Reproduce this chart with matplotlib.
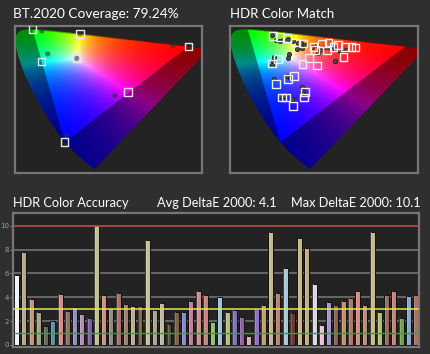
import numpy as np
import matplotlib
matplotlib.use('Agg')
import matplotlib.pyplot as plt
from matplotlib.patches import Polygon

# ---------------- data ----------------
# CIE 1931 spectral locus (x, y), 380..700 nm
locus_x = [0.1741, 0.1733, 0.1714, 0.1644, 0.1566, 0.1440, 0.1241, 0.1096, 0.0913, 0.0687,
           0.0454, 0.0235, 0.0082, 0.0039, 0.0139, 0.0389, 0.0743, 0.1142, 0.1547, 0.2296,
           0.3016, 0.3731, 0.4441, 0.5125, 0.5752, 0.6270, 0.6915, 0.7190, 0.7347]
locus_y = [0.0050, 0.0048, 0.0051, 0.0109, 0.0177, 0.0297, 0.0578, 0.0868, 0.1327, 0.2007,
           0.2950, 0.4127, 0.5384, 0.6548, 0.7502, 0.8120, 0.8338, 0.8262, 0.8059, 0.7543,
           0.6923, 0.6245, 0.5547, 0.4866, 0.4242, 0.3725, 0.3083, 0.2809, 0.2653]

# BT.2020 targets (u', v'): R, G, B, Y, C, M, W
bt_target_u = [0.5566, 0.0556, 0.1593, 0.2086, 0.0844, 0.3626, 0.1978]
bt_target_v = [0.5165, 0.5868, 0.1258, 0.5685, 0.4556, 0.3300, 0.4683]
# measured points (u', v')
bt_meas_u = [0.507, 0.0857, 0.1659, 0.2086, 0.1049, 0.3209, 0.198]
bt_meas_v = [0.5194, 0.5796, 0.1501, 0.5685, 0.4855, 0.3149, 0.468]

# HDR color match targets (u', v')
cm_target_u = [0.138, 0.160, 0.181, 0.207, 0.234, 0.266, 0.271, 0.293, 0.314, 0.330,
               0.309, 0.344, 0.367, 0.388, 0.400, 0.362, 0.252, 0.231, 0.277, 0.154,
               0.135, 0.205, 0.186, 0.147, 0.239, 0.237, 0.165, 0.178, 0.202]
cm_target_v = [0.559, 0.556, 0.552, 0.532, 0.529, 0.515, 0.502, 0.529, 0.532, 0.515,
               0.499, 0.522, 0.515, 0.515, 0.512, 0.472, 0.468, 0.445, 0.438, 0.464,
               0.447, 0.395, 0.382, 0.363, 0.331, 0.308, 0.308, 0.308, 0.273]
cm_meas_u = [0.133, 0.147, 0.160, 0.170, 0.184, 0.202, 0.216, 0.227, 0.239, 0.213,
             0.231, 0.261, 0.277, 0.287, 0.303, 0.319, 0.335, 0.351, 0.369, 0.282,
             0.335, 0.188, 0.186, 0.141, 0.138, 0.135, 0.181, 0.191, 0.141, 0.231,
             0.234, 0.231, 0.160, 0.173, 0.199]
cm_meas_v = [0.563, 0.543, 0.540, 0.543, 0.546, 0.540, 0.529, 0.532, 0.522, 0.505,
             0.509, 0.515, 0.522, 0.502, 0.515, 0.509, 0.505, 0.499, 0.502, 0.488,
             0.458, 0.485, 0.468, 0.472, 0.458, 0.440, 0.395, 0.386, 0.382, 0.349,
             0.335, 0.325, 0.314, 0.314, 0.300]

# HDR color accuracy (DeltaE 2000 per patch)
delta_e = [5.9, 7.8, 3.85, 2.8, 1.62, 2.0, 4.27, 2.85, 3.16, 2.6,
           2.23, 10.05, 4.22, 3.07, 4.33, 3.41, 3.24, 3.24, 8.8, 2.93,
           3.52, 1.76, 2.8, 2.8, 3.66, 4.55, 4.19, 1.95, 4.05, 2.8,
           2.9, 2.35, 0.77, 2.99, 3.38, 9.45, 4.38, 6.43, 2.68, 9.0,
           8.16, 5.11, 1.68, 3.6, 3.38, 3.72, 3.9, 4.55, 3.38, 9.47,
           2.74, 4.19, 4.53, 2.23, 4.1, 4.19]
bar_colors = ['#f2f2f2', '#b8a888', '#c09880', '#a0a880', '#607050', '#6090a0', '#d09088', '#907060',
              '#9090c0', '#b090b0', '#8060a0', '#c0c090', '#d09080', '#909088', '#b07068', '#a08070',
              '#c0b090', '#906858', '#c8c098', '#a8a890', '#c0b8a0', '#505838', '#806050', '#8888d0',
              '#c080a0', '#d09088', '#c08878', '#90c070', '#a0c0d8', '#b0c080', '#8070c0', '#9060a0',
              '#e0a8c0', '#9070c8', '#c0a070', '#c8b890', '#c08070', '#a8c8d8', '#703830', '#c8b888',
              '#c0b080', '#d8d8e0', '#e8c0d0', '#a098d0', '#906050', '#c09070', '#b07868', '#d09080',
              '#b89078', '#c8b888', '#b0c078', '#a06858', '#c88078', '#70a050', '#88a8d0', '#b07060']
y_ticks = [0, 2, 4, 6, 8, 10]

BG = '#2f2f2f'
PANEL = '#232323'
BORDER = '#767676'

M2020 = np.array([[1.7166512, -0.3556708, -0.2533663],
                  [-0.6666844, 1.6164812, 0.0157685],
                  [0.0176399, -0.0427706, 0.9421031]])

fig = plt.figure(figsize=(4.3, 3.54), dpi=100, facecolor=BG)
FONT = 'Lato'


def gamut_axes(rect):
    ax = fig.add_axes(rect)
    ax.set_facecolor(PANEL)
    n = 320
    uu = np.linspace(0, 0.6, n)
    vv = np.linspace(0.0005, 0.6, n)
    U, V = np.meshgrid(uu, vv)
    d = 6 * U - 16 * V + 12
    x = 9 * U / d
    y = 4 * V / d
    X = x / y
    Z = (1 - x - y) / y
    XYZ = np.stack([X, np.ones_like(X), Z], axis=-1)
    rgb = XYZ @ M2020.T
    outside = (rgb < 0).any(axis=-1)
    rgb = np.clip(rgb, 0, None)
    rgb = rgb / np.maximum(rgb.max(axis=-1, keepdims=True), 1e-9)
    rgb = rgb ** 1.25
    rgb = rgb / np.maximum(rgb.max(axis=-1, keepdims=True), 1e-9)
    rgb[outside] *= 0.55
    im = ax.imshow(rgb, origin='lower', extent=[0, 0.6, 0, 0.6], aspect='auto',
                   interpolation='bilinear', zorder=1)
    lx = np.array(locus_x)
    ly = np.array(locus_y)
    dd = -2 * lx + 12 * ly + 3
    pts = np.column_stack([4 * lx / dd, 9 * ly / dd])
    poly = Polygon(pts, closed=True, transform=ax.transData, facecolor='none', edgecolor='none')
    ax.add_patch(poly)
    im.set_clip_path(poly)
    ax.set_xlim(0, 0.6)
    ax.set_ylim(0, 0.6)
    ax.set_xticks([])
    ax.set_yticks([])
    for s in ax.spines.values():
        s.set_color(BORDER)
        s.set_linewidth(1.6)
    return ax


ax1 = gamut_axes([15 / 430, 1 - 172.7 / 354, 187 / 430, 146.7 / 354])
ax1.scatter(bt_meas_u, bt_meas_v, s=14, color='#303030', alpha=0.6, edgecolors='none', zorder=3)
ax1.scatter(bt_target_u, bt_target_v, s=30, marker='s', facecolors='none',
            edgecolors='#e6e6e6', linewidths=1.0, zorder=4)

ax2 = gamut_axes([230 / 430, 1 - 172.7 / 354, 188 / 430, 146.7 / 354])
ax2.scatter(cm_meas_u, cm_meas_v, s=10, color='#4a4a4a', edgecolors='#1a1a1a',
            linewidths=0.5, zorder=3)
ax2.scatter(cm_target_u, cm_target_v, s=30, marker='s', facecolors='none',
            edgecolors='#eeeeee', linewidths=1.0, zorder=4)

# bar chart
ax3 = fig.add_axes([13 / 430, 1 - 347 / 354, 406 / 430, 134 / 354])
ax3.set_facecolor(PANEL)
xs = np.arange(len(delta_e))
for yv in [2, 4, 6, 8]:
    ax3.axhline(yv, color='#6c6c6c', lw=1.3, zorder=1)
ax3.bar(xs, delta_e, width=0.68, color=bar_colors, edgecolor='#101010', linewidth=0.7, zorder=2)
ax3.bar(xs - 0.17, delta_e, width=0.2, color='white', alpha=0.18, linewidth=0, zorder=2.5)
ax3.axhline(10, color='#b04a40', lw=1.3, zorder=3)
ax3.axhline(3, color='#e8e44a', lw=1.1, zorder=3)
ax3.axhline(1, color='#3d9a3d', lw=1.0, zorder=3)
ax3.set_xlim(-0.5, 55.45)
ax3.set_ylim(-0.17, 11.06)
ax3.set_xticks([])
ax3.set_yticks(y_ticks)
ax3.set_yticklabels([str(t) for t in y_ticks])
ax3.tick_params(axis='y', colors='#a0a0a0', labelsize=5, length=2.5, width=0.6, pad=0.5)
for s in ax3.spines.values():
    s.set_color(BORDER)
    s.set_linewidth(1.6)

tk = dict(color='white', family=FONT, va='baseline', ha='left')
fig.text(13 / 430, 1 - 18 / 354, 'BT.2020 Coverage: 79.24%', fontsize=9.8, **tk)
fig.text(230 / 430, 1 - 18 / 354, 'HDR Color Match', fontsize=9.5, **tk)
fig.text(13 / 430, 1 - 207 / 354, 'HDR Color Accuracy', fontsize=9.2, **tk)
fig.text(157 / 430, 1 - 207 / 354, 'Avg DeltaE 2000: 4.1', fontsize=9.2, **tk)
fig.text(291 / 430, 1 - 207 / 354, 'Max DeltaE 2000: 10.1', fontsize=9.2, **tk)

fig.savefig('out.png', dpi=100, facecolor=BG)
